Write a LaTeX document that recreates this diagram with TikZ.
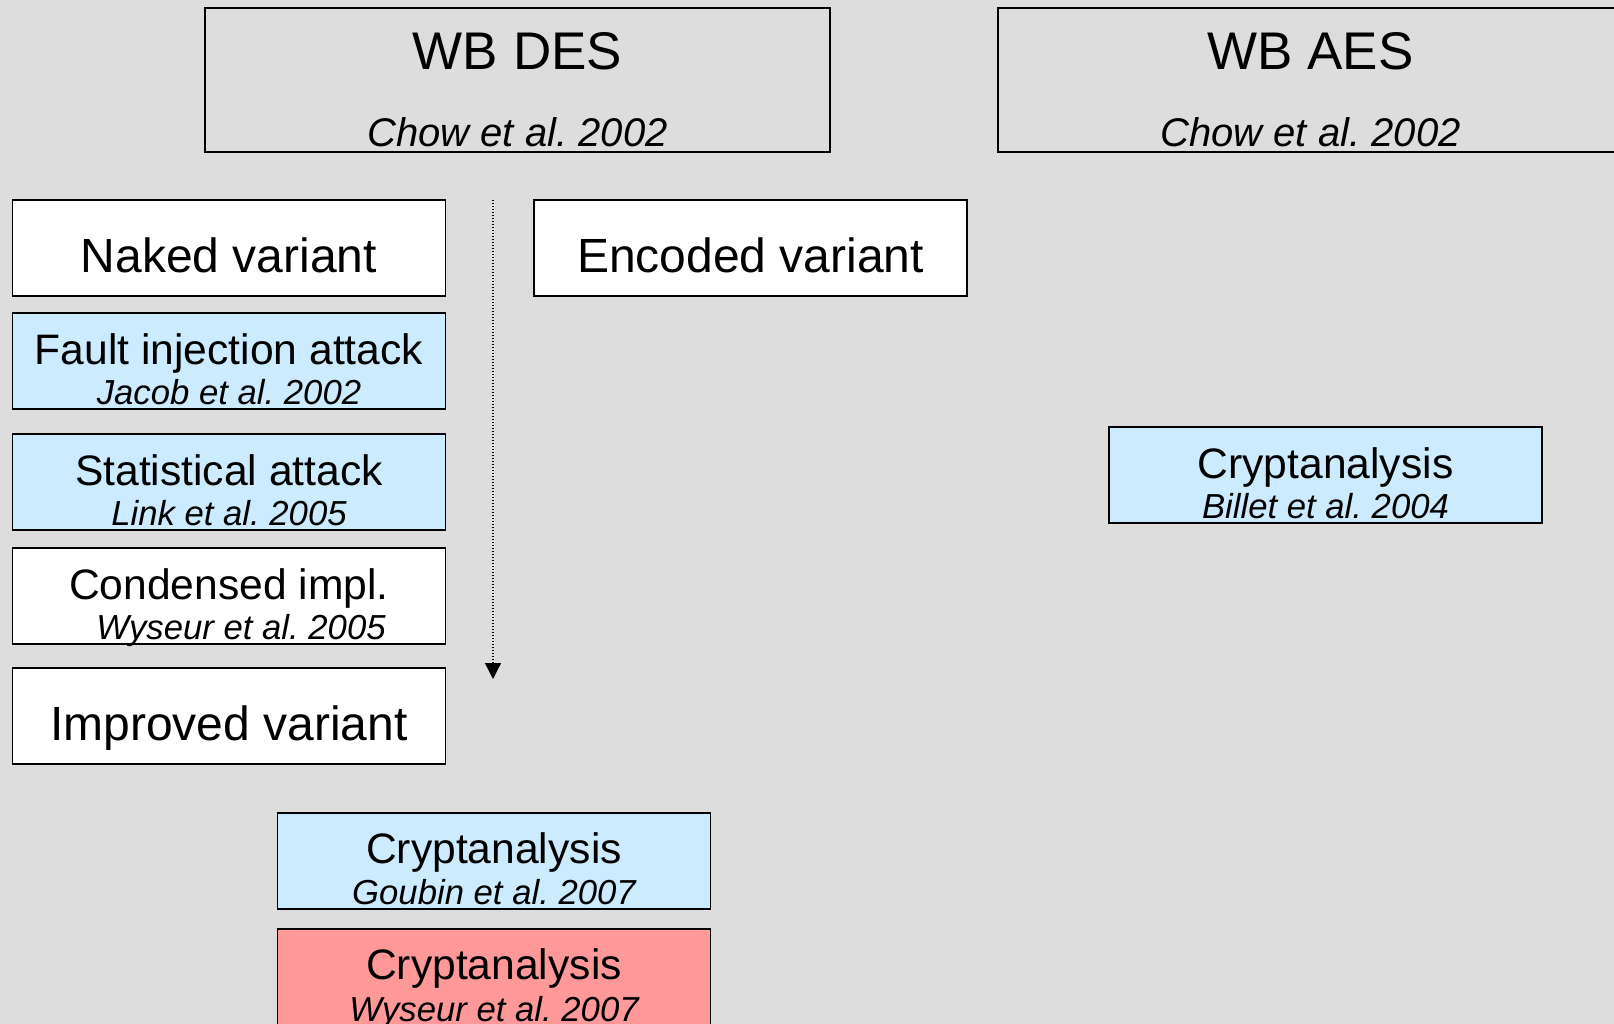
\documentclass[tikz,border=0pt]{standalone}
\usepackage{fontspec}
\setmainfont{Liberation Sans}
\usetikzlibrary{arrows.meta}
\usetikzlibrary{calc}

\definecolor{slidegray}{HTML}{DDDDDD}
\definecolor{attackblue}{HTML}{CCEBFF}
\definecolor{breakred}{HTML}{FF9999}

\tikzset{
  box/.style={draw, line width=1.8pt, inner sep=0pt, minimum width=433pt, minimum height=96pt},
  headbox/.style={draw, line width=1.6pt, inner sep=0pt, minimum width=625pt, minimum height=144pt},
  headtext/.style={anchor=base, inner sep=0pt, font=\fontsize{53}{60}\selectfont},
  headcite/.style={anchor=base, inner sep=0pt, font=\fontsize{40}{46}\selectfont\itshape},
  varianttext/.style={anchor=base, inner sep=0pt, font=\fontsize{48}{56}\selectfont},
  titletext/.style={anchor=base, inner sep=0pt, font=\fontsize{42.6}{48}\selectfont},
  citetext/.style={anchor=base, inner sep=0pt, font=\fontsize{34.7}{40}\selectfont\itshape},
}

\begin{document}
\begin{tikzpicture}[x=1pt, y=-1pt]
      \fill[slidegray] (0,0) rectangle (1614,1024);
      \useasboundingbox (0,0) rectangle (1614,1024);
      \clip (0,0) rectangle (1614,1024);

      % the two white-box ciphers
      \node[headbox] (des) at (517.5,80) {};
      \node[headtext] (desT) at ([yshift=-62pt]des.north) {WB DES};
      \node[headcite] (desC) at ([yshift=-139pt]des.north) {Chow et al.\ 2002};

      \node[headbox] (aes) at (1310.5,80) {};
      \node[headtext] (aesT) at ([yshift=-62pt]aes.north) {WB AES};
      \node[headcite] (aesC) at ([yshift=-139pt]aes.north) {Chow et al.\ 2002};

      % DES column
      \node[box, fill=white] (naked) at (229,248) {};
      \node[varianttext] (nakedT) at ([yshift=-73pt]naked.north) {Naked variant};

      \node[box, fill=attackblue] (fault) at (229,361) {};
      \node[titletext] (faultT) at ([yshift=-52pt]fault.north) {Fault injection attack};
      \node[citetext] (faultC) at ([yshift=-92pt]fault.north) {Jacob et al.\ 2002};

      \node[box, fill=attackblue] (stat) at (229,482) {};
      \node[titletext] (statT) at ([yshift=-52pt]stat.north) {Statistical attack};
      \node[citetext] (statC) at ([yshift=-92pt]stat.north) {Link et al.\ 2005};

      \node[box, fill=white] (condensed) at (229,596) {};
      \node[titletext] (condensedT) at ([yshift=-52pt]condensed.north) {Condensed impl.};
      \node[citetext] (condensedC) at ([xshift=12pt, yshift=-92pt]condensed.north) {Wyseur et al.\ 2005};

      \node[box, fill=white] (improved) at (229,716) {};
      \node[varianttext] (improvedT) at ([yshift=-73pt]improved.north) {Improved variant};

      \node[box, fill=white] (encoded) at (750.5,248) {};
      \node[varianttext] (encodedT) at ([yshift=-73pt]encoded.north) {Encoded variant};

      \node[box, fill=attackblue] (goubin) at (494,861) {};
      \node[titletext] (goubinT) at ([yshift=-51pt]goubin.north) {Cryptanalysis};
      \node[citetext] (goubinC) at ([yshift=-92pt]goubin.north) {Goubin et al.\ 2007};

      \node[box, fill=breakred] (wyseur) at (494,977) {};
      \node[titletext] (wyseurT) at ([yshift=-51pt]wyseur.north) {Cryptanalysis};
      \node[citetext] (wyseurC) at ([yshift=-93pt]wyseur.north) {Wyseur et al.\ 2007};

      % AES column
      \node[box, fill=attackblue] (billet) at (1325.5,475) {};
      \node[titletext] (billetT) at ([yshift=-52pt]billet.north) {Cryptanalysis};
      \node[citetext] (billetC) at ([yshift=-92pt]billet.north) {Billet et al.\ 2004};

      % time line
      \coordinate (timetop) at (493,200);
      \coordinate (timeend) at (493,679);
      \draw[line width=1.3pt, dash pattern=on 1.3pt off 1.7pt, -{Triangle[length=16pt, width=16pt]}] (timetop) -- (timeend);
    \end{tikzpicture}
\end{document}
